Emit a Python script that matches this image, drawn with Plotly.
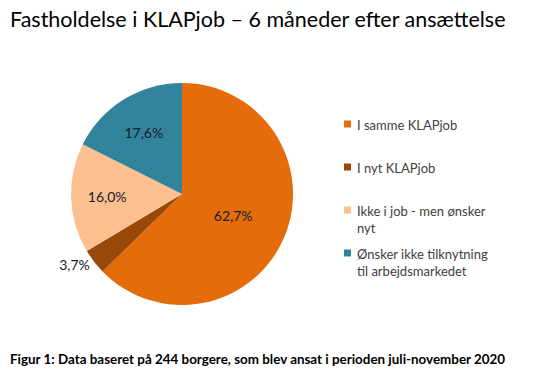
import plotly.graph_objects as go

categories = ["I samme KLAPjob", "I nyt KLAPjob", "Ikke i job - men ønsker<br>nyt",
              "Ønsker ikke tilknytning<br>til arbejdsmarkedet"]
values = [62.7, 3.7, 16.0, 17.6]
value_labels = ["62,7%", "3,7%", "16,0%", "17,6%"]
colors = ["#E46C0A", "#984807", "#FAC090", "#31849B"]
title_text = "Fastholdelse i KLAPjob – 6 måneder efter ansættelse"
caption_text = "Figur 1: Data baseret på 244 borgere, som blev ansat i perioden juli-november 2020"

W, H = 541, 384
FONT = "Lato, 'Open Sans', sans-serif"

fig = go.Figure()
fig.add_trace(go.Pie(
    labels=categories,
    values=values,
    text=value_labels,
    textinfo="text",
    textposition=["inside", "outside", "inside", "inside"],
    insidetextorientation="horizontal",
    sort=False,
    direction="clockwise",
    rotation=0,
    marker=dict(colors=colors, line=dict(width=0)),
    textfont=dict(family=FONT, size=14, color="#1a1a2a"),
    outsidetextfont=dict(family=FONT, size=14, color="#1a1a2a"),
    insidetextfont=dict(family=FONT, size=14, color="#1a1a2a"),
    domain=dict(x=[(182 - 111) / W, (182 + 111) / W], y=[(H - 305) / H, (H - 83) / H]),
    showlegend=False,
    hoverinfo="label+text",
))

# legend drawn manually
legend_y = [124, 167, 210, 253]
annotations = []
shapes = []
for i, (cat, col) in enumerate(zip(categories, colors)):
    y = legend_y[i]
    shapes.append(dict(type="rect", xref="paper", yref="paper",
                       x0=344 / W, x1=351 / W, y0=(H - y - 3.5) / H, y1=(H - y + 3.5) / H,
                       fillcolor=col, line=dict(width=0)))
    annotations.append(dict(text=cat, xref="paper", yref="paper",
                            x=355 / W, y=(H - y + 9) / H, xanchor="left", yanchor="top",
                            align="left", showarrow=False,
                            font=dict(family=FONT, size=13, color="#404040")))

annotations.append(dict(text=title_text, xref="paper", yref="paper",
                        x=258 / W, y=(H - 19) / H, xanchor="center", yanchor="middle",
                        showarrow=False, font=dict(family=FONT, size=21.5, color="#000000")))
annotations.append(dict(text="<b>" + caption_text + "</b>", xref="paper", yref="paper",
                        x=8 / W, y=(H - 359) / H, xanchor="left", yanchor="middle",
                        showarrow=False, font=dict(family=FONT, size=13.4, color="#000000")))

fig.update_layout(
    width=W, height=H,
    margin=dict(l=0, r=0, t=0, b=0),
    paper_bgcolor="white",
    plot_bgcolor="white",
    annotations=annotations,
    shapes=shapes,
)

fig.write_html("out.html", config={"displayModeBar": False},
               post_script="document.body.style.margin='0';")
